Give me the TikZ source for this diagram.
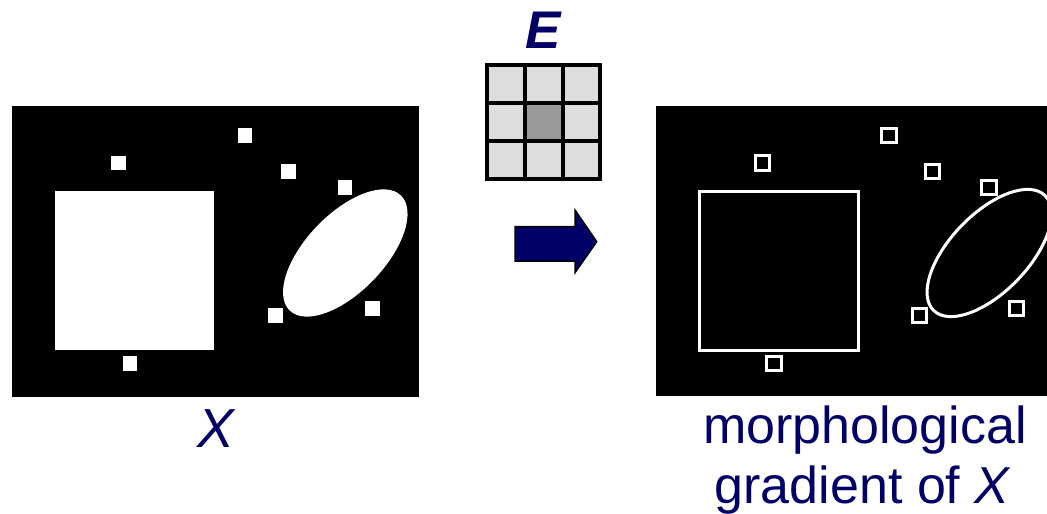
\documentclass[tikz,border=0pt]{standalone}
\usepackage{fontspec}
\setmainfont{Liberation Sans}
\definecolor{navy}{RGB}{0,0,102}
\definecolor{cellgray}{RGB}{221,221,221}
\definecolor{origingray}{RGB}{153,153,153}
\begin{document}
\begin{tikzpicture}[x=1pt,y=-1pt,
  panel/.style={fill=black},
  blob/.style={fill=white},
  rim/.style={draw=white,line width=3pt},
  label/.style={text=navy,inner sep=0pt,anchor=base},
  gridline/.style={draw=black,line width=4pt,line cap=rect},
  blockarrow/.style={fill=navy,draw=black,line width=1.5pt,line join=miter}]
\useasboundingbox (0,0) rectangle (1047,514);

% ---------- input image X ----------
\fill[panel] (12,106) rectangle (419,397);
\fill[blob] (55.3,191.3) rectangle (214,350);
\fill[blob] (345.3,253) circle[x radius=80pt,y radius=39pt,rotate=46];
\foreach \sx/\sy in {111/155.5, 237.5/128, 281/164, 337.5/180, 268/308, 365/301, 122.5/356}
  \fill[blob] (\sx,\sy) rectangle ++(14.5,14.5);

% ---------- gradient image ----------
\begin{scope}[xshift=644pt]
\fill[panel] (12,106) rectangle (419,396);
\draw[rim] (55.3,191.3) rectangle (214,350);
\draw[rim] (345.3,253) circle[x radius=80pt,y radius=39pt,rotate=46];
\foreach \sx/\sy in {111/155.5, 237.5/128, 281/164, 337.5/180, 268/308, 365/301, 122.5/356}
  \draw[rim] (\sx,\sy) rectangle ++(14.5,14.5);
\end{scope}

% ---------- structuring element E ----------
\foreach \i in {0,1,2}
  \foreach \j in {0,1,2}
    \fill[cellgray] (487+37.77*\i,64.7+38*\j) rectangle ++(37.77,38);
\fill[origingray] (524.77,102.7) rectangle ++(37.77,38);
\foreach \i in {0,1,2,3}
  \draw[gridline] (487+37.77*\i,64.7) -- (487+37.77*\i,178.7);
\foreach \j in {0,1,2,3}
  \draw[gridline] (487,64.7+38*\j) -- (600.3,64.7+38*\j);

% ---------- labels ----------
\node[label,font=\fontsize{53}{60}\selectfont\bfseries\itshape] (E) at (543.5,48) {E};
\node[label,font=\fontsize{55}{60}\selectfont\itshape] (X) at (215.5,447) {X};
\node[label,font=\fontsize{52}{60}\selectfont] (grad1) at (865,443) {morphological};
\node[label,font=\fontsize{52}{60}\selectfont] (grad2) at (863,503) {gradient of \textit{X}};

% ---------- operation arrow ----------
\draw[blockarrow] (515,226.7) -- (575,226.7) -- (575,210) -- (596.7,241.7)
  -- (575,272.7) -- (575,261) -- (515,261) -- cycle;
\end{tikzpicture}
\end{document}
